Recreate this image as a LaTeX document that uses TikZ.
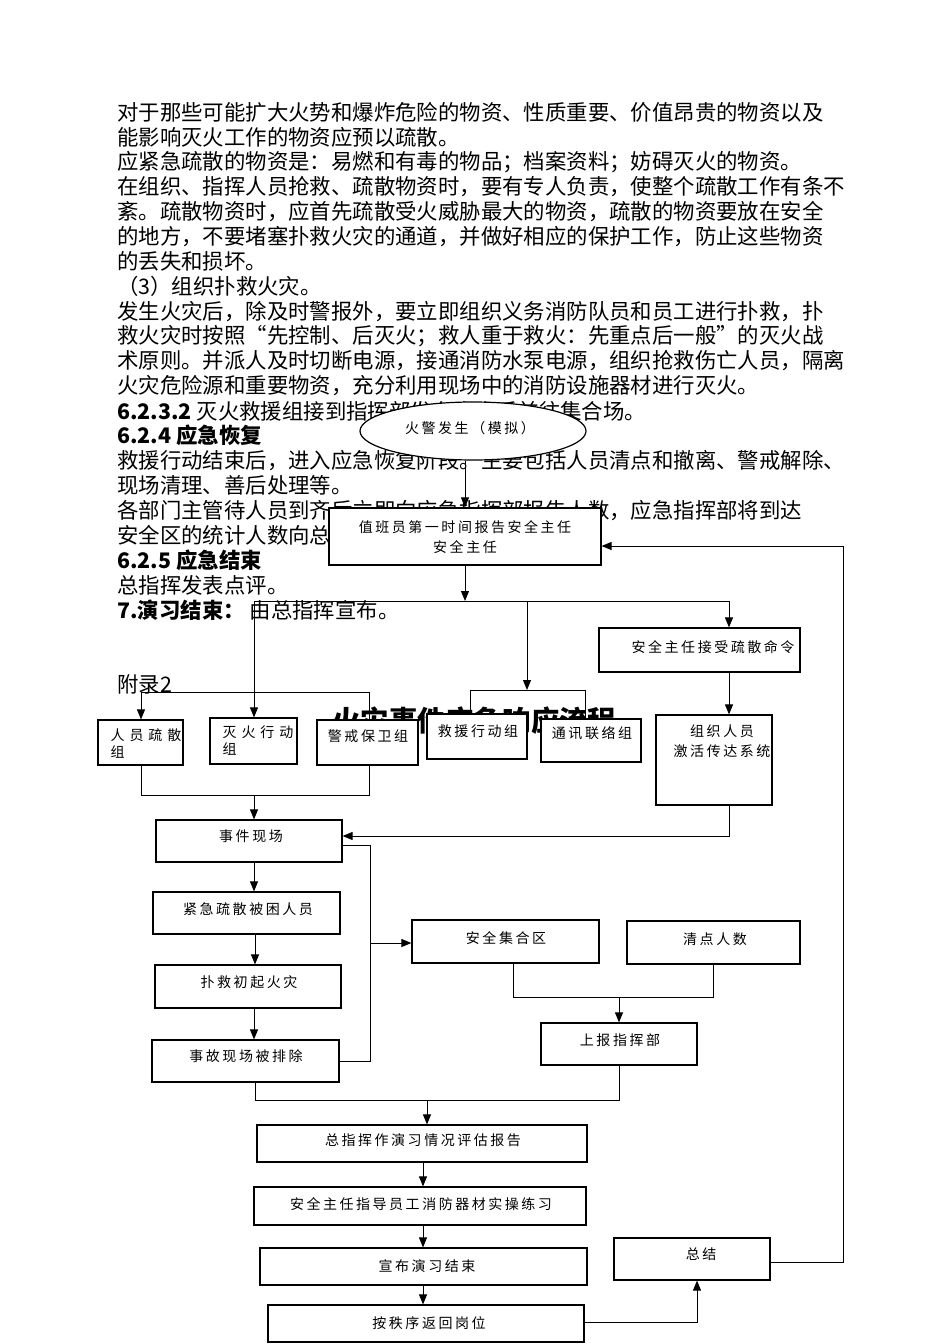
\documentclass[tikz,border=0pt]{standalone}
\usepackage{fontspec}
\setmainfont{Noto Sans CJK SC}
\newfontfamily\bxf[LetterSpace=18]{Noto Sans CJK SC}
\newfontfamily\bxw[LetterSpace=35]{Noto Sans CJK SC}
\usetikzlibrary{shapes.geometric,arrows.meta}
\tikzset{
 body/.style={anchor=west, inner sep=0pt, font=\fontsize{16.05pt}{19pt}\selectfont},
 box/.style={draw, fill=white, line width=0.9pt, inner sep=0pt},
 lab/.style={inner sep=0pt, align=center, font=\bxf\fontsize{10.5pt}{15pt}\selectfont},
 labw/.style={inner sep=0pt, align=left, font=\bxw\fontsize{10.5pt}{12.75pt}\selectfont},
 arr/.style={line width=0.75pt, -{Triangle[length=7.5pt,width=6pt]}},
 ln/.style={line width=0.75pt},
}
\newcommand\mkbox[5]{\node[box, minimum width={(#4-#2)*0.75pt}, minimum height={(#5-#3)*0.75pt}] (#1) at ({(#2+#4)/2},{(#3+#5)/2}) {};}
\begin{document}
\begin{tikzpicture}[x=0.75pt,y=-0.75pt]
\useasboundingbox (0,0) rectangle (950,1344);
% ---- body text ----
\node[body] (l1) at (117,112.0) {对于那些可能扩大火势和爆炸危险的物资、性质重要、价值昂贵的物资以及};
\node[body] (l2) at (117,136.9) {能影响灭火工作的物资应预以疏散。};
\node[body] (l3) at (117,161.8) {应紧急疏散的物资是：易燃和有毒的物品；档案资料；妨碍灭火的物资。};
\node[body] (l4) at (117,186.7) {在组织、指挥人员抢救、疏散物资时，要有专人负责，使整个疏散工作有条不};
\node[body] (l5) at (117,211.6) {紊。疏散物资时，应首先疏散受火威胁最大的物资，疏散的物资要放在安全};
\node[body] (l6) at (117,236.5) {的地方，不要堵塞扑救火灾的通道，并做好相应的保护工作，防止这些物资};
\node[body] (l7) at (117,261.4) {的丢失和损坏。};
\node[body] (l8) at (117,286.3) {（3）组织扑救火灾。};
\node[body] (l9) at (117,311.2) {发生火灾后，除及时警报外，要立即组织义务消防队员和员工进行扑救，扑};
\node[body] (l10) at (117,336.1) {救火灾时按照“先控制、后灭火；救人重于救火：先重点后一般”的灭火战};
\node[body] (l11) at (117,361.0) {术原则。并派人及时切断电源，接通消防水泵电源，组织抢救伤亡人员，隔离};
\node[body] (l12) at (117,385.9) {火灾危险源和重要物资，充分利用现场中的消防设施器材进行灭火。};
\node[body] (l13) at (117,410.8) {\textbf{6.2.3.2} 灭火救援组接到指挥部发布命令后前往集合场。};
\node[body] (l14) at (117,435.7) {\textbf{6.2.4 应急恢复}};
\node[body] (l15) at (117,460.6) {救援行动结束后，进入应急恢复阶段。主要包括人员清点和撤离、警戒解除、};
\node[body] (l16) at (117,485.5) {现场清理、善后处理等。};
\node[body] (l17) at (117,510.4) {各部门主管待人员到齐后立即向应急指挥部报告人数，应急指挥部将到达};
\node[body] (l18) at (117,535.3) {安全区的统计人数向总指挥报告。};
\node[body] (l19) at (117,560.2) {\textbf{6.2.5 应急结束}};
\node[body] (l20) at (117,585.1) {总指挥发表点评。};
\node[body] (l21) at (117,610.0) {\textbf{7.演习结束：} 由总指挥宣布。};
\node[body] (appx) at (117,684) {附录2};
\node[anchor=west, inner sep=0pt, font=\bfseries\fontsize{21.3pt}{24pt}\selectfont] (title) at (332,721) {火灾事件应急响应流程};
% ---- boxes ----
\node[draw, fill=white, line width=0.9pt, ellipse, minimum width={226*0.75pt}, minimum height={58*0.75pt}, inner sep=0pt] (fire) at (473,431) {};
\node[lab] (fire-t) at (470,428) {火警发生（模拟）};
\mkbox{duty}{329}{508}{601}{565}
\node[lab] (duty-t) at (465,537) {值班员第一时间报告安全主任\\安全主任};
\mkbox{accept}{599}{628}{800}{672}
\node[lab] (accept-t) at (713,647) {安全主任接受疏散命令};
\mkbox{org}{656}{715}{772}{805}
\node[lab] (org-t) at (722,741) {组织人员\\激活传达系统};
\mkbox{p1}{98}{720}{183}{765}
\node[labw] (p1-t) at (146,743) {人员疏散\\组};
\mkbox{p2}{210}{718}{297}{764}
\node[labw] (p2-t) at (258,741) {灭火行动\\组};
\mkbox{p3}{317}{720}{418}{765}
\node[lab] (p3-t) at (368,736) {警戒保卫组};
\mkbox{p4}{427}{714}{527}{759}
\node[lab] (p4-t) at (478,731) {救援行动组};
\mkbox{p5}{541}{719}{641}{762}
\node[lab] (p5-t) at (592,733) {通讯联络组};
\mkbox{scene}{156}{820}{342}{862}
\node[lab] (scene-t) at (251,836) {事件现场};
\mkbox{evac}{153}{892}{340}{934}
\node[lab] (evac-t) at (248,909) {紧急疏散被困人员};
\mkbox{fight}{155}{965}{341}{1008}
\node[lab] (fight-t) at (249,982) {扑救初起火灾};
\mkbox{clear}{152}{1040}{339}{1082}
\node[lab] (clear-t) at (246,1056) {事故现场被排除};
\mkbox{assemble}{412}{920}{599}{963}
\node[lab] (assemble-t) at (506,938) {安全集合区};
\mkbox{count}{627}{921}{800}{964}
\node[lab] (count-t) at (715,939) {清点人数};
\mkbox{report}{541}{1023}{697}{1065}
\node[lab] (report-t) at (620,1040) {上报指挥部};
\mkbox{eval}{257}{1125}{587}{1162}
\node[lab] (eval-t) at (423,1140) {总指挥作演习情况评估报告};
\mkbox{train}{254}{1187}{586}{1225}
\node[lab] (train-t) at (421,1204) {安全主任指导员工消防器材实操练习};
\mkbox{announce}{260}{1248}{587}{1285}
\node[lab] (announce-t) at (427,1266) {宣布演习结束};
\mkbox{back}{268}{1305}{584}{1342}
\node[lab] (back-t) at (429,1323) {按秩序返回岗位};
\mkbox{summary}{614}{1238}{770}{1280}
\node[lab] (summary-t) at (701,1254) {总结};
% ---- junction coordinates ----
\coordinate (j1) at (465,601);
\coordinate (jL) at (254,601);
\coordinate (jM) at (527,601);
\coordinate (jR) at (729,601);
\coordinate (jM2) at (527,690);
\coordinate (b2l) at (470,690);
\coordinate (b2r) at (585,690);
\coordinate (b1l) at (141,692);
\coordinate (b1r) at (369,692);
\coordinate (c1l) at (141,795);
\coordinate (c1r) at (369,795);
\coordinate (c1m) at (254,795);
\coordinate (d1) at (729,836);
\coordinate (e1) at (370,845);
\coordinate (e2) at (370,1061);
\coordinate (e3) at (370,943);
\coordinate (f1) at (513,997);
\coordinate (f2) at (713,997);
\coordinate (f3) at (619,997);
\coordinate (g1) at (255,1100);
\coordinate (g2) at (619,1100);
\coordinate (g3) at (427,1100);
\coordinate (vx) at (423,0);
\coordinate (h1) at (697,1322);
\coordinate (k1) at (843,1262);
\coordinate (k2) at (843,546);
% ---- connectors ----
\draw[arr] (duty.north |- fire.south) -- (duty.north);
\draw[arr] (duty.south) -- (j1);
\draw[ln] (jL) -- (jR);
\draw[arr] (jL) -- (jL |- p2.north);
\draw[arr] (jM) -- (jM2);
\draw[ln] (b2l |- p4.north) -- (b2l) -- (b2r) -- (b2r |- p5.north);
\draw[arr] (jR) -- (jR |- accept.north);
\draw[arr] (jR |- accept.south) -- (jR |- org.north);
\draw[arr] (b1r |- p3.north) -- (b1r) -- (b1l) -- (b1l |- p1.north);
\draw[ln] (b1l |- p1.south) -- (c1l) -- (c1r) -- (b1r |- p3.south);
\draw[arr] (c1m) -- (c1m |- scene.north);
\draw[arr] (jR |- org.south) -- (d1) -- (d1 -| scene.east);
\draw[arr] (c1m |- scene.south) -- (c1m |- evac.north);
\draw[arr] ([xshift=0.75pt]c1m |- evac.south) -- ([xshift=0.75pt]c1m |- fight.north);
\draw[arr] (c1m |- fight.south) -- (c1m |- clear.north);
\draw[ln] (e1 -| scene.east) -- (e1) -- (e2) -- (e2 -| clear.east);
\draw[arr] (e3) -- (e3 -| assemble.west);
\draw[ln] (f1 |- assemble.south) -- (f1) -- (f2) -- (f2 |- count.south);
\draw[arr] (f3) -- (f3 |- report.north);
\draw[ln] (g1 |- clear.south) -- (g1) -- (g2) -- (g2 |- report.south);
\draw[arr] (g3) -- (g3 |- eval.north);
\draw[arr] (vx |- eval.south) -- (vx |- train.north);
\draw[arr] (vx |- train.south) -- (vx |- announce.north);
\draw[arr] (vx |- announce.south) -- (vx |- back.north);
\draw[arr] (h1 -| back.east) -- (h1) -- (h1 |- summary.south);
\draw[arr] (k1 -| summary.east) -- (k1) -- (k2) -- (k2 -| duty.east);
\end{tikzpicture}
\end{document}
